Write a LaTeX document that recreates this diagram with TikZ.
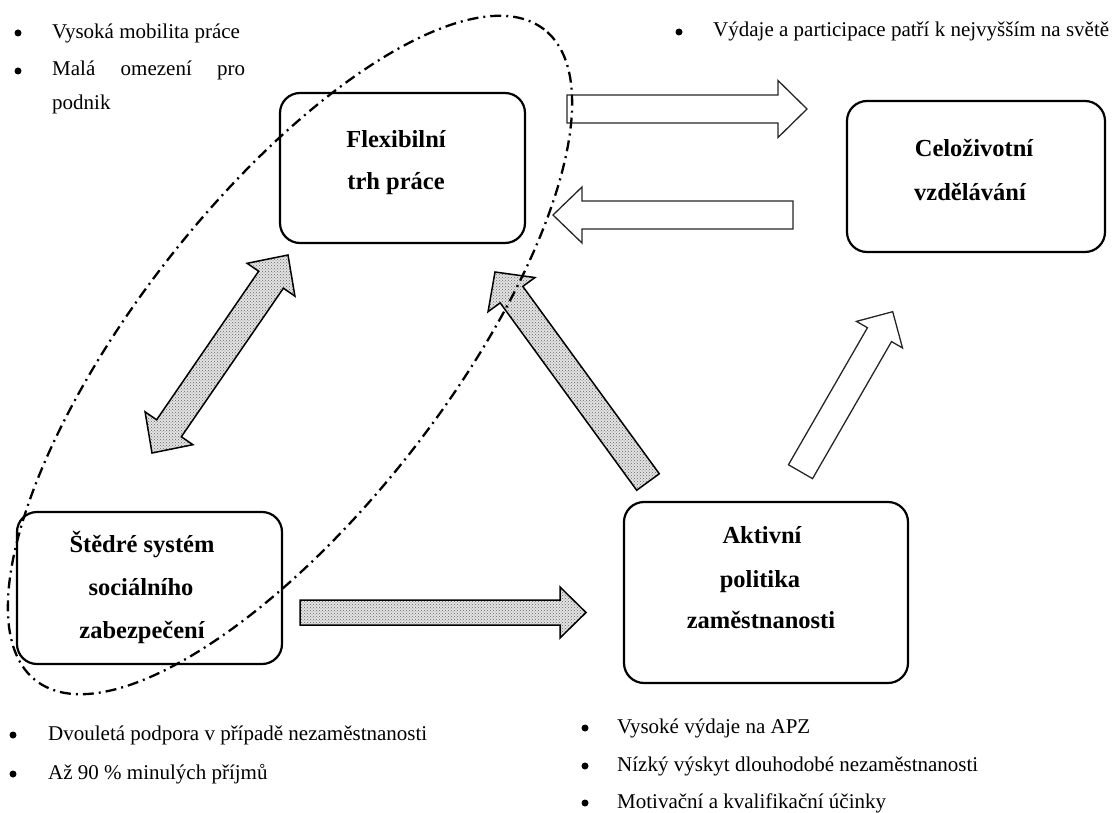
\documentclass[tikz,border=0pt]{standalone}
\usepackage{fontspec}
\setmainfont{Liberation Serif}
\usetikzlibrary{calc,patterns}
% #1 style, #2 tail, #3 tip, #4 shaft half width, #5 head half width, #6 head length
\newcommand\blockarrow[6]{%
  \coordinate (#2-hb) at ($(#3)!#6!(#2)$);
  \draw[#1] ($(#2)!#4!90:(#3)$) -- ($(#2-hb)!#4!90:(#3)$) -- ($(#2-hb)!#5!90:(#3)$) -- (#3)
    -- ($(#2-hb)!#5!-90:(#3)$) -- ($(#2-hb)!#4!-90:(#3)$) -- ($(#2)!#4!-90:(#3)$) -- cycle;}
\newcommand\twoheadarrow[6]{%
  \coordinate (#2-ha) at ($(#2)!#6!(#3)$);
  \coordinate (#3-hb) at ($(#3)!#6!(#2)$);
  \draw[#1] (#2) -- ($(#2-ha)!#5!90:(#3)$) -- ($(#2-ha)!#4!90:(#3)$) -- ($(#3-hb)!#4!90:(#3)$)
    -- ($(#3-hb)!#5!90:(#3)$) -- (#3) -- ($(#3-hb)!#5!-90:(#3)$) -- ($(#3-hb)!#4!-90:(#3)$)
    -- ($(#2-ha)!#4!-90:(#3)$) -- ($(#2-ha)!#5!-90:(#3)$) -- cycle;}
\begin{document}
\begin{tikzpicture}[x=1pt,y=-1pt,
  box/.style={draw=black, line width=2.2pt, rounded corners=20pt, fill=white, inner sep=0pt},
  hollow/.style={draw=black!85, line width=1.3pt, fill=white, line join=miter},
  dotarrow/.style={draw=black, line width=1.5pt, line join=miter, preaction={fill=gray!22}, pattern=crosshatch dots, pattern color=black!60},
  ring/.style={draw=black, line width=2.3pt, dash pattern=on 11pt off 5pt on 2pt off 5pt},
  bul/.style={circle, fill=black, inner sep=0pt, minimum size=7pt},
  txt/.style={anchor=base west, inner sep=0pt, font=\fontsize{21}{25}\selectfont},
  btxt/.style={anchor=base, inner sep=0pt, font=\bfseries\fontsize{24.5}{29}\selectfont}]
\useasboundingbox (0,0) rectangle (1119,813);

% boxes
\node[box, minimum width=245pt, minimum height=150pt] (flex) at (402.5,168) {};
\node[box, minimum width=258pt, minimum height=151pt] (celo) at (976,176.5) {};
\node[box, minimum width=265pt, minimum height=152pt] (stedre) at (149.5,588) {};
\node[box, minimum width=284pt, minimum height=181pt] (aktiv) at (766,592.5) {};

\node[btxt] (flex1) at (396,148) {Flexibilní};
\node[btxt] (flex2) at (396,190) {trh práce};
\node[btxt] (celo1) at (974,157) {Celoživotní};
\node[btxt] (celo2) at (970,201) {vzdělávání};
\node[btxt] (sted1) at (142,552) {Štědré systém};
\node[btxt] (sted2) at (141,595) {sociálního};
\node[btxt] (sted3) at (142,638) {zabezpečení};
\node[btxt] (akt1) at (762,543) {Aktivní};
\node[btxt] (akt2) at (760,587) {politika};
\node[btxt] (akt3) at (761,628) {zaměstnanosti};

% arrow end points
\coordinate (fc) at (567,109);   \coordinate (fcT) at (807,109);
\coordinate (cf) at (793,215);   \coordinate (cfT) at (553,215);
\coordinate (ac) at (800.5,471.7); \coordinate (acT) at (892.7,311.7);
\coordinate (sf) at (152,453);   \coordinate (sfT) at (288,255);
\coordinate (af) at (648,482);   \coordinate (afT) at (495,272);
\coordinate (sa) at (300,612.5); \coordinate (saT) at (586,612.5);

\blockarrow{hollow}{fc}{fcT}{14pt}{28.5pt}{29pt}
\blockarrow{hollow}{cf}{cfT}{14pt}{28pt}{29pt}
\blockarrow{hollow}{ac}{acT}{13.9pt}{26.6pt}{26.5pt}
\twoheadarrow{dotarrow}{sf}{sfT}{15pt}{29pt}{30pt}
\blockarrow{dotarrow}{af}{afT}{14pt}{29pt}{28pt}
\blockarrow{dotarrow}{sa}{saT}{12.5pt}{25.5pt}{26pt}

% dash-dot ellipse
\coordinate (ringc) at (290,355);
\draw[ring, rotate around={52:(ringc)}] (ringc) ellipse [x radius=413pt, y radius=155pt];

% bullet lists
\node[bul] (b1) at (18,33) {};
\node[txt] (l1) at (52,39) {Vysoká mobilita práce};
\node[bul] (b2) at (18,71) {};
\node[txt] (l2) at (52,76) {\makebox[193pt][s]{Malá omezení pro}};
\node[txt] (l3) at (52,110) {podnik};

\node[bul] (b3) at (679,32) {};
\node[txt] (l4) at (713,37) {Výdaje a participace patří k nejvyšším na světě};

\node[bul] (b4) at (13,735) {};
\node[txt] (l5) at (48,740) {Dvouletá podpora v případě nezaměstnanosti};
\node[bul] (b5) at (13,774) {};
\node[txt] (l6) at (48,779) {Až 90 \% minulých příjmů};

\node[bul] (b6) at (585,728) {};
\node[txt] (l7) at (617,733) {Vysoké výdaje na APZ};
\node[bul] (b7) at (585,766) {};
\node[txt] (l8) at (617,771) {Nízký výskyt dlouhodobé nezaměstnanosti};
\node[bul] (b8) at (585,803) {};
\node[txt] (l9) at (617,808) {Motivační a kvalifikační účinky};
\end{tikzpicture}
\end{document}
